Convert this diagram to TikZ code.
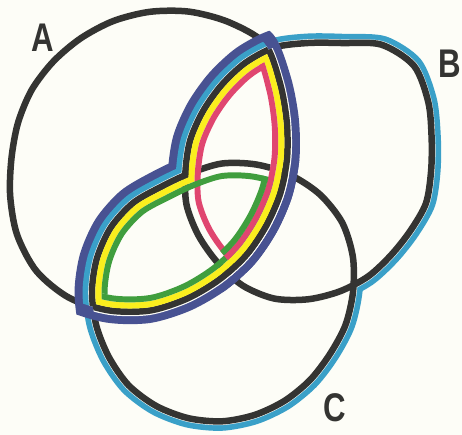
\documentclass[tikz,border=0pt]{standalone}
\usepackage{fontspec}
\setmainfont{Liberation Sans}
\definecolor{bg}{RGB}{253,253,247}
\definecolor{ink}{RGB}{52,52,50}
\definecolor{navyb}{RGB}{72,82,146}
\definecolor{cyanb}{RGB}{58,160,200}
\definecolor{yel}{RGB}{250,238,30}
\definecolor{pnk}{RGB}{224,70,112}
\definecolor{grn}{RGB}{64,158,62}
\tikzset{
  pA/.style={insert path={plot[smooth cycle,tension=0.5] coordinates{
    (0:{137+(#1)}) (15:{134.8+(#1)}) (30:{134.3+(#1)}) (45:{136.5+(#1)})
    (60:{139.8+(#1)}) (75:{145.3+(#1)}) (90:{152.5+(#1)}) (105:{157.8+(#1)})
    (120:{161.5+(#1)}) (135:{160.3+(#1)}) (150:{153.5+(#1)}) (165:{144.8+(#1)})
    (180:{138.5+(#1)}) (195:{136.6+(#1)}) (210:{136.5+(#1)}) (225:{136.6+(#1)})
    (240:{138.3+(#1)}) (255:{141.8+(#1)}) (270:{146.2+(#1)}) (285:{151.5+(#1)})
    (300:{157+(#1)}) (315:{162+(#1)}) (330:{150+(#1)}) (345:{141.5+(#1)})}}},
  pB/.style={insert path={plot[smooth cycle,tension=0.5] coordinates{
    (0:{123+(#1)}) (15:{122+(#1)}) (30:{118+(#1)}) (45:{117.5+(#1)})
    (60:{120.5+(#1)}) (75:{123.5+(#1)}) (90:{127.3+(#1)}) (105:{131+(#1)})
    (120:{131+(#1)}) (135:{128+(#1)}) (150:{126.6+(#1)}) (165:{125.8+(#1)})
    (180:{122.6+(#1)}) (195:{122+(#1)}) (210:{121.3+(#1)}) (225:{122.5+(#1)})
    (240:{125.8+(#1)}) (255:{129+(#1)}) (270:{129+(#1)}) (285:{133.5+(#1)})
    (300:{147+(#1)}) (315:{150+(#1)}) (330:{139+(#1)}) (345:{128+(#1)})}}},
  pC/.style={insert path={plot[smooth cycle,tension=0.5] coordinates{
    (0:{131+(#1)}) (15:{127.8+(#1)}) (30:{124.5+(#1)}) (45:{124.5+(#1)})
    (60:{125.5+(#1)}) (75:{127.2+(#1)}) (90:{129.3+(#1)}) (105:{130.6+(#1)})
    (120:{131.6+(#1)}) (135:{132+(#1)}) (150:{130.5+(#1)}) (165:{130.1+(#1)})
    (180:{130+(#1)}) (195:{129.5+(#1)}) (210:{128.5+(#1)}) (225:{125.8+(#1)})
    (240:{121.5+(#1)}) (255:{123+(#1)}) (270:{128.5+(#1)}) (285:{132+(#1)})
    (300:{135.5+(#1)}) (315:{138.2+(#1)}) (330:{138.8+(#1)}) (345:{135.5+(#1)})}}},
  shA/.style={shift={(150,158)},pA=#1},
  shB/.style={shift={(308,172)},pB=#1},
  shC/.style={shift={(222,292)},pC=#1},
  ringA/.style 2 args={shift={(150,158)},pA=#1,pA=#2},
  ringB/.style 2 args={shift={(308,172)},pB=#1,pB=#2},
  ringC/.style 2 args={shift={(222,292)},pC=#1,pC=#2},
  blk/.style={draw=ink,line width=6.5pt},
  lbl/.style={text=ink,inner sep=0pt,xscale=0.78,font=\fontsize{40}{40}\selectfont\bfseries}
}
\begin{document}
\begin{tikzpicture}[x=1pt,y=-1pt]
\useasboundingbox (0,0) rectangle (462,435);
\fill[bg] (0,0) rectangle (462,435);
% cyan outline of B union C
\fill[cyanb,shB=9.5]; \fill[cyanb,shC=9.5];
\fill[bg,shB=3.8]; \fill[bg,shC=3.8];
% the three set outlines
\draw[blk,shA=0]; \draw[blk,shB=0]; \draw[blk,shC=0];
% navy outline of A cap (B cup C)
\begin{scope}\clip[shA=12.5]; \fill[navyb,shB=17.5]; \fill[navyb,shC=17.5];\end{scope}
\begin{scope}\clip[shA=0];
  \fill[cyanb,shB=9.5]; \fill[cyanb,shC=9.5];
  \fill[bg,shB=3.8]; \fill[bg,shC=3.8];
\end{scope}
\begin{scope}\clip[shA=4.5]; \fill[bg,shB=0]; \fill[bg,shC=0];\end{scope}
\begin{scope}\clip[shA=0]; \draw[blk,shB=0]; \draw[blk,shC=0];\end{scope}
\begin{scope}\clip[shB=0]; \draw[blk,shA=0];\end{scope}
\begin{scope}\clip[shC=0]; \draw[blk,shA=0];\end{scope}
% yellow inner outline of the lens
\begin{scope}\clip[shA=-3.25]; \fill[yel,shB=-3.25]; \fill[yel,shC=-3.25];\end{scope}
\begin{scope}\clip[shA=-9.5]; \fill[bg,shB=-9.5]; \fill[bg,shC=-9.5];\end{scope}
% interior arcs
\begin{scope}\clip[shA=-9.5]; \clip[shC=-9.5]; \draw[blk,shB=0];\end{scope}
\begin{scope}\clip[shA=-15.5]; \clip[shB=-15.5]; \draw[blk,shC=0];\end{scope}
% green (A cap C), pink (A cap B)
\begin{scope}\clip[shC=-9.5]; \fill[grn,even odd rule,ringA={-9.5}{-15.5}];\end{scope}
\begin{scope}\clip[shB=-9.5]; \fill[pnk,even odd rule,ringA={-9.5}{-15.5}];\end{scope}
\begin{scope}\clip[shA=-9.5]; \fill[pnk,even odd rule,ringB={-9.5}{-15.5}];\end{scope}
\begin{scope}\clip[shC=-9.5]; \clip[shB=-9.5]; \fill[grn,even odd rule,ringA={-15.5}{-21.5}];\end{scope}
\begin{scope}\clip[shA=-15.5]; \fill[grn,even odd rule,ringC={-9.5}{-15.5}];\end{scope}
% labels
\node[lbl] (la) at (43,38) {A};
\node[lbl] (lb) at (450,64) {B};
\node[lbl] (lc) at (335,408) {C};
\end{tikzpicture}
\end{document}
